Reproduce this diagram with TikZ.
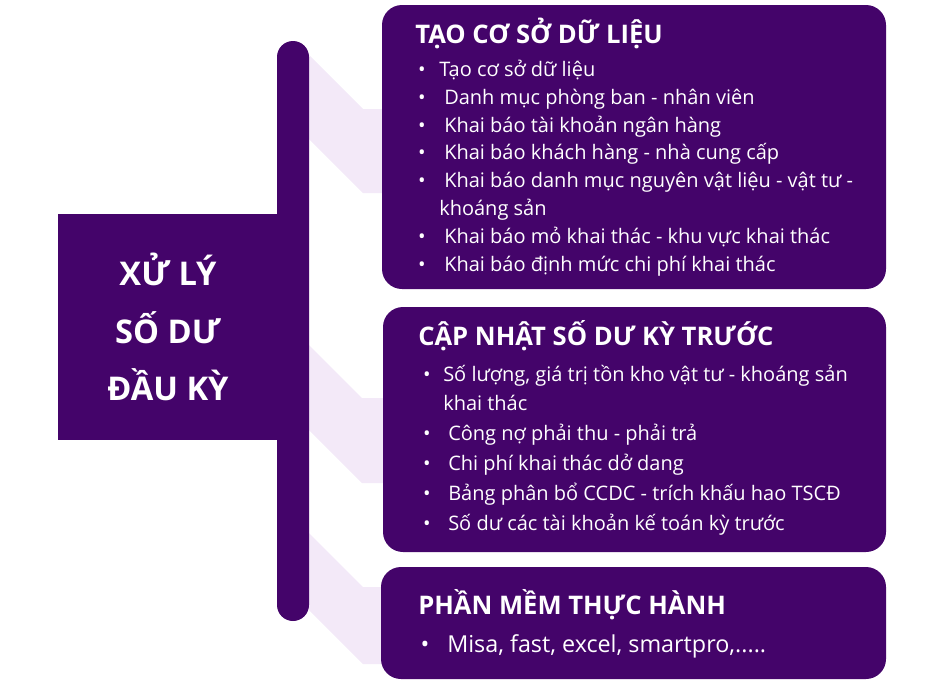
\documentclass[tikz,border=0pt]{standalone}
\usepackage{fontspec}
\setmainfont{Open Sans}
\definecolor{deeppurple}{HTML}{44046A}
\definecolor{lavender}{HTML}{F3E9F8}

\begin{document}
\begin{tikzpicture}[x=0.75pt,y=0.75pt,yscale=-1,xscale=1,
  panel/.style={fill=deeppurple,rounded corners=15pt},
  band/.style={fill=lavender},
  head/.style={anchor=base west,inner sep=0pt,text=white,font=\bfseries\fontsize{19.2}{23}\selectfont},
  item/.style={anchor=base west,inner sep=0pt,text=white,font=\fontsize{15}{18}\selectfont},
  dot/.style={anchor=base,inner sep=0pt,text=white,font=\fontsize{15}{18}\selectfont}]
\useasboundingbox (0,0) rectangle (940,682);

%Shape: Band [id:band1]
\fill [band] (309,55) -- (363,109) -- (383,109) -- (383,193) -- (363,193) -- (309,139) -- cycle ;
%Shape: Band [id:band2]
\fill [band] (309,345) -- (362,398) -- (383,398) -- (383,483) -- (362,483) -- (309,430) -- cycle ;
%Shape: Band [id:band3]
\fill [band] (309,533) -- (363,587) -- (383,587) -- (383,664) -- (363,664) -- (309,610) -- cycle ;

%Shape: Rectangle [id:mainbox]
\fill [deeppurple] (58,214) rectangle (290,440) ;
%Shape: Rounded Bar [id:spine]
\fill [deeppurple,rounded corners=12pt] (277,41) rectangle (309,621) ;

%Shape: Rounded Rect [id:box1]
\fill [panel] (382,5) rectangle (886,289) ;
%Shape: Rounded Rect [id:box2]
\fill [panel] (383,307) rectangle (886,552) ;
%Shape: Rounded Rect [id:box3]
\fill [panel] (381,567) rectangle (886,679) ;

% Text Node
\node (main) at (168,327) [align=center,text=white,font=\bfseries\fontsize{24.5}{43}\selectfont] {XỬ LÝ\\SỐ DƯ\\ĐẦU KỲ};

% Text Node
\node (h1) at (415,43) [head] {TẠO CƠ SỞ DỮ LIỆU};
\node (d11) at (422,76) [dot] {\textbullet};
\node (t11) at (439,76) [item] {Tạo cơ sở dữ liệu};
\node (d12) at (422,104) [dot] {\textbullet};
\node (t12) at (444,104) [item] {Danh mục phòng ban - nhân viên};
\node (d13) at (422,132) [dot] {\textbullet};
\node (t13) at (444,132) [item] {Khai báo tài khoản ngân hàng};
\node (d14) at (422,159) [dot] {\textbullet};
\node (t14) at (444,159) [item] {Khai báo khách hàng - nhà cung cấp};
\node (d15) at (422,187) [dot] {\textbullet};
\node (t15) at (444,187) [item] {Khai báo danh mục nguyên vật liệu - vật tư -};
\node (t15b) at (439,215) [item] {khoáng sản};
\node (d16) at (422,243) [dot] {\textbullet};
\node (t16) at (444,243) [item] {Khai báo mỏ khai thác - khu vực khai thác};
\node (d17) at (422,271) [dot] {\textbullet};
\node (t17) at (444,271) [item] {Khai báo định mức chi phí khai thác};

% Text Node
\node (h2) at (418,345) [head] {CẬP NHẬT SỐ DƯ KỲ TRƯỚC};
\node (d21) at (427,381) [dot] {\textbullet};
\node (t21) at (443,381) [item] {Số lượng, giá trị tồn kho vật tư - khoáng sản};
\node (t21b) at (443,410) [item] {khai thác};
\node (d22) at (427,440) [dot] {\textbullet};
\node (t22) at (448,440) [item] {Công nợ phải thu - phải trả};
\node (d23) at (427,470) [dot] {\textbullet};
\node (t23) at (448,470) [item] {Chi phí khai thác dở dang};
\node (d24) at (427,500) [dot] {\textbullet};
\node (t24) at (448,500) [item] {Bảng phân bổ CCDC - trích khấu hao TSCĐ};
\node (d25) at (427,530) [dot] {\textbullet};
\node (t25) at (448,530) [item] {Số dư các tài khoản kế toán kỳ trước};

% Text Node
\node (h3) at (418,614) [head] {PHẦN MỀM THỰC HÀNH};
\node (d31) at (425,652) [dot,font=\fontsize{17.5}{21}\selectfont] {\textbullet};
\node (t31) at (447,652) [item,font=\fontsize{17.5}{21}\selectfont] {Misa, fast, excel, smartpro,.....};

\end{tikzpicture}
\end{document}
